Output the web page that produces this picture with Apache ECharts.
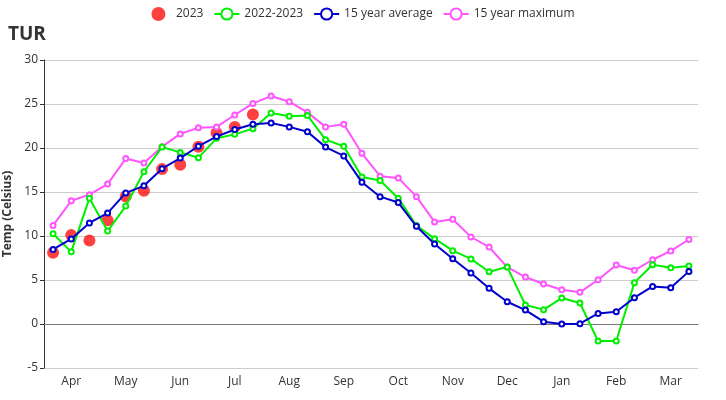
<!DOCTYPE html>
<html><head><meta charset="utf-8">
<script src="https://cdn.jsdelivr.net/npm/echarts@6/dist/echarts.min.js"></script>
<style>html,body{margin:0;padding:0;background:#fff}#c{width:726px;height:400px}</style>
</head><body><div id="c"></div>
<script>
const monthLabels = ['Apr','May','Jun','Jul','Aug','Sep','Oct','Nov','Dec','Jan','Feb','Mar'];
const categories = [];
monthLabels.forEach(m => { categories.push(m + '-1', m + '-2', m + '-3'); });
const yTicks = { min: -5, max: 30, interval: 5 };
const s2023 = [8.1, 10.1, 9.5, 11.8, 14.5, 15.15, 17.6, 18.1, 20.15, 21.7, 22.4, 23.8];
const s2022_2023 = [10.26, 8.2, 14.3, 10.56, 13.4, 17.3, 20.1, 19.5, 18.9, 21.1, 21.55, 22.2,
  23.97, 23.6, 23.7, 20.95, 20.2, 16.7, 16.3, 14.3, 11.2, 9.7, 8.33, 7.4,
  5.94, 6.47, 2.16, 1.63, 2.95, 2.39, -1.93, -1.93, 4.7, 6.74, 6.4, 6.59];
const sAvg = [8.48, 9.66, 11.48, 12.6, 14.9, 15.7, 17.65, 18.85, 20.2, 21.3, 22.1, 22.7,
  22.84, 22.4, 21.85, 20.1, 19.1, 16.1, 14.47, 13.8, 11.1, 9.1, 7.42, 5.8,
  4.05, 2.53, 1.58, 0.26, 0.0, 0.04, 1.2, 1.4, 2.99, 4.27, 4.12, 5.98];
const sMax = [11.2, 14.0, 14.7, 15.9, 18.8, 18.3, 20.15, 21.6, 22.3, 22.4, 23.75, 25.07,
  25.9, 25.26, 24.05, 22.4, 22.7, 19.4, 16.8, 16.6, 14.47, 11.6, 11.9, 9.9,
  8.75, 6.47, 5.34, 4.54, 3.9, 3.6, 5.03, 6.7, 6.1, 7.3, 8.3, 9.6];

const font = '"Open Sans", "Noto Sans", sans-serif';
const chart = echarts.init(document.getElementById('c'), null, {renderer: 'canvas'});
const axisColor = '#777';
chart.setOption({
  animation: false,
  textStyle: { fontFamily: font },
  title: { text: 'TUR', left: 3, top: 20, textStyle: { fontSize: 19, fontWeight: 'bold', color: '#333', fontFamily: font } },
  legend: {
    top: 2, left: 'center', itemWidth: 25, itemHeight: 14, itemGap: 10,
    textStyle: { fontSize: 12, color: '#333', fontFamily: font },
    data: ['2023', '2022-2023', '15 year average', '15 year maximum']
  },
  grid: { left: 44, right: 28, top: 60, bottom: 32, containLabel: false, outerBoundsMode: 'none' },
  xAxis: [{
    type: 'category', data: categories, boundaryGap: true, position: 'bottom',
    axisLine: { onZero: false, show: false },
    axisTick: { show: false },
    axisLabel: {
      interval: (i) => i % 3 === 1, margin: 8, fontSize: 12, color: '#333', fontFamily: font,
      formatter: (v) => v.split('-')[0]
    },
    splitLine: { show: false }
  }, {
    type: 'category', data: categories, boundaryGap: true, position: 'top',
    axisLine: { onZero: true, lineStyle: { color: axisColor } },
    axisTick: { length: -4, inside: false, interval: (i) => i % 3 === 0, lineStyle: { color: axisColor } },
    axisLabel: { show: false },
    splitLine: { show: false }
  }],
  yAxis: {
    type: 'value', min: yTicks.min, max: yTicks.max, interval: yTicks.interval,
    name: 'Temp (Celsius)', nameLocation: 'middle', nameGap: 30,
    nameTextStyle: { fontSize: 12, fontWeight: 'bold', color: '#333', fontFamily: font },
    axisLine: { show: true, onZero: false, lineStyle: { color: '#333' } },
    axisTick: { show: true, length: 4, lineStyle: { color: '#333' } },
    axisLabel: { fontSize: 12, color: '#333', fontFamily: font, margin: 6 },
    splitLine: { lineStyle: { color: '#ccc' } }
  },
  series: [
    { name: '2023', type: 'scatter', data: s2023, symbolSize: 12, itemStyle: { color: '#ff0000', opacity: 0.75 }, z: 1 },
    { name: '2022-2023', type: 'line', data: s2022_2023, symbol: 'emptyCircle', symbolSize: 5,
      lineStyle: { width: 2, color: '#00ee00' }, itemStyle: { color: '#00ee00' }, z: 3 },
    { name: '15 year average', type: 'line', data: sAvg, symbol: 'emptyCircle', symbolSize: 5,
      lineStyle: { width: 2, color: '#0000cc' }, itemStyle: { color: '#0000cc' }, z: 4 },
    { name: '15 year maximum', type: 'line', data: sMax, symbol: 'emptyCircle', symbolSize: 5,
      lineStyle: { width: 2, color: '#ff55ff' }, itemStyle: { color: '#ff55ff' }, z: 2 }
  ]
});
</script></body></html>
